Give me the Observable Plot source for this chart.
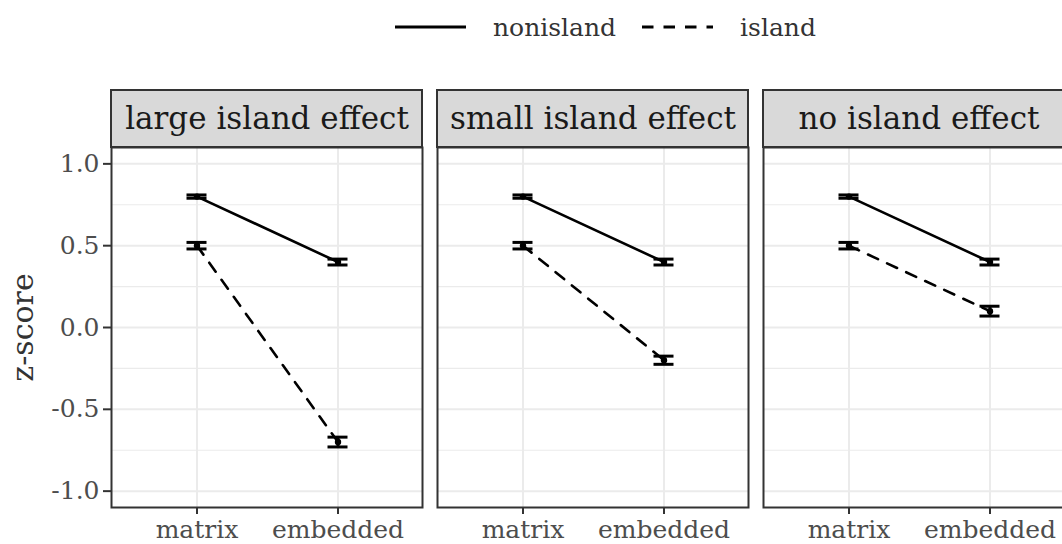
<!DOCTYPE html>
<html>
<head>
<meta charset="utf-8">
<script src="https://cdn.jsdelivr.net/npm/d3@7"></script>
<script src="https://cdn.jsdelivr.net/npm/@observablehq/plot@0.6"></script>
<style>
  html, body { margin: 0; padding: 0; background: #fff; width: 1062px; height: 544px; overflow: hidden; }
  #legend { height: 54px; display: flex; align-items: center; padding-left: 395px; box-sizing: border-box;
            font-family: "DejaVu Serif"; font-size: 25px; color: #333; }
  #legend svg { display: block; }
  #chart svg { max-width: none !important; display: block; }
</style>
</head>
<body>
<div id="legend"></div>
<div id="chart"></div>
<script>
// Facet panels, conditions and the two sentence structures
const panels = ["large island effect", "small island effect", "no island effect"];
const conditions = ["matrix", "embedded"];
const structures = ["nonisland", "island"];

// Mean z-scores, one entry per panel
const meanNonislandMatrix   = [0.80, 0.80, 0.80];
const meanNonislandEmbedded = [0.40, 0.40, 0.40];
const meanIslandMatrix      = [0.50, 0.50, 0.50];
const meanIslandEmbedded    = [-0.70, -0.20, 0.10];

// Standard errors, one entry per panel
const seNonislandMatrix   = [0.010, 0.010, 0.010];
const seNonislandEmbedded = [0.018, 0.018, 0.018];
const seIslandMatrix      = [0.020, 0.020, 0.020];
const seIslandEmbedded    = [0.030, 0.025, 0.030];

// Axis ticks
const yTicks = [-1, -0.5, 0, 0.5, 1];
const yMinorTicks = [-0.75, -0.25, 0.25, 0.75];

// Long-format table for the marks
const rows = [];
panels.forEach((panel, i) => {
  rows.push({panel, condition: "matrix",   structure: "nonisland", mean: meanNonislandMatrix[i],   se: seNonislandMatrix[i]});
  rows.push({panel, condition: "embedded", structure: "nonisland", mean: meanNonislandEmbedded[i], se: seNonislandEmbedded[i]});
  rows.push({panel, condition: "matrix",   structure: "island",    mean: meanIslandMatrix[i],      se: seIslandMatrix[i]});
  rows.push({panel, condition: "embedded", structure: "island",    mean: meanIslandEmbedded[i],    se: seIslandEmbedded[i]});
});
const nonislandRows = rows.filter(d => d.structure === "nonisland");
const islandRows = rows.filter(d => d.structure === "island");

const FONT = "'DejaVu Serif'";
const DASH = "11,10";
const GRID = "#ebebeb";
const STRIP_H = 57;
const CAP_INSET = 46.5;

// Legend: line type per structure
const legend = d3.select("#legend");
structures.forEach((s, i) => {
  const key = legend.append("svg").attr("width", 71).attr("height", 20)
    .style("margin-left", i === 0 ? "0px" : "26px");
  key.append("line").attr("x1", 0).attr("x2", 71).attr("y1", 10).attr("y2", 10)
    .attr("stroke", "#000").attr("stroke-width", 3)
    .attr("stroke-dasharray", s === "island" ? "11.5,10" : null);
  legend.append("span").style("margin-left", "27px").text(s);
});

const common = {fx: "panel", x: "condition"};

const chart = Plot.plot({
  width: 1080,
  height: 490,
  marginTop: 93,
  marginBottom: 37,
  marginLeft: 110,
  marginRight: 6,
  style: {fontFamily: FONT, background: "white", color: "#000"},
  fx: {domain: panels, paddingInner: 0.0475, paddingOuter: 0, axis: null, label: null},
  x: {type: "band", domain: conditions, padding: 0.2, label: null},
  y: {domain: [-1.1, 1.1], label: null},
  marks: [
    Plot.gridY(yMinorTicks, {stroke: GRID, strokeOpacity: 1, strokeWidth: 1.2}),
    Plot.gridY(yTicks, {stroke: GRID, strokeOpacity: 1, strokeWidth: 2}),
    Plot.gridX(conditions, {stroke: GRID, strokeOpacity: 1, strokeWidth: 2}),
    Plot.line(nonislandRows, {...common, y: "mean", z: "panel", stroke: "#000", strokeWidth: 2.6}),
    Plot.line(islandRows, {...common, y: "mean", z: "panel", stroke: "#000", strokeWidth: 2.6, strokeDasharray: DASH}),
    Plot.ruleX(rows, {...common, y1: d => d.mean - d.se, y2: d => d.mean + d.se, stroke: "#000", strokeWidth: 3}),
    Plot.tickY(rows, {...common, y: d => d.mean - d.se, insetLeft: CAP_INSET, insetRight: CAP_INSET, stroke: "#000", strokeWidth: 3}),
    Plot.tickY(rows, {...common, y: d => d.mean + d.se, insetLeft: CAP_INSET, insetRight: CAP_INSET, stroke: "#000", strokeWidth: 3}),
    Plot.dot(rows, {...common, y: "mean", r: 3.2, fill: "#000", stroke: null}),
    Plot.frame({stroke: "#333", strokeWidth: 2}),
    Plot.axisY(yTicks, {anchor: "left", tickSize: 8, tickPadding: 4, fontSize: 25, stroke: "#333", strokeWidth: 2,
                        fill: "#4d4d4d", tickFormat: d => d.toFixed(1), label: null}),
    Plot.axisX({anchor: "bottom", tickSize: 7, tickPadding: 6, fontSize: 25, stroke: "#333", strokeWidth: 2,
                fill: "#4d4d4d", label: null}),
    // strip labels
    Plot.text(panels, {fx: d => d, text: d => d, frameAnchor: "top", dy: -STRIP_H / 2, lineAnchor: "middle",
                       fontSize: 31, fill: "#1a1a1a"}),
    // y-axis title, drawn once beside the first panel
    Plot.text(["z-score"], {fx: () => panels[0], text: d => d, frameAnchor: "left", rotate: -90, dx: -88,
                            lineAnchor: "middle", textAnchor: "middle", fontSize: 30, fill: "#333"})
  ]
});

// Strip backgrounds above each panel, placed with the facet scale
const fx = chart.scale("fx");
const svg = d3.select(chart);
const strips = svg.insert("g", ":first-child").attr("aria-label", "strips");
panels.forEach(p => {
  strips.append("rect")
    .attr("x", fx.apply(p))
    .attr("y", 93 - STRIP_H)
    .attr("width", fx.bandwidth)
    .attr("height", STRIP_H)
    .attr("fill", "#d9d9d9")
    .attr("stroke", "#333")
    .attr("stroke-width", 2);
});

document.getElementById("chart").appendChild(chart);
</script>
</body>
</html>
